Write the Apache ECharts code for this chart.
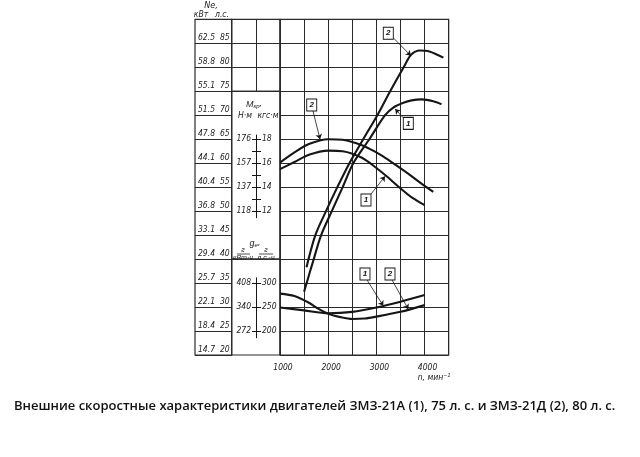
<!DOCTYPE html>
<html>
<head>
<meta charset="utf-8">
<title>Внешние скоростные характеристики ЗМЗ-21А и ЗМЗ-21Д</title>
<script src="https://cdn.jsdelivr.net/npm/echarts@6.0.0/dist/echarts.min.js"></script>
<style>
  html, body { margin: 0; padding: 0; background: #fff; }
  #chart { width: 640px; height: 457px; }
</style>
</head>
<body>
<div id="chart"></div>
<script>
// --- данные ---
// мощность Ne, л.с.
var ne1Rpm = [1500, 1550, 1700, 1850, 2070, 2300, 2520, 2860, 3180, 3350, 3560, 3730, 3940, 4180, 4350];
var ne1Hp  = [33.2, 34.9, 40.0, 44.9, 49.9, 55.0, 60.0, 65.1, 70.0, 71.6, 72.6, 73.1, 73.3, 72.9, 72.3];
var ne2Rpm = [1550, 1730, 1950, 2190, 2440, 2750, 3020, 3280, 3560, 3720, 3900, 4100, 4390];
var ne2Hp  = [38.3, 44.9, 49.9, 55.0, 60.0, 65.4, 70.0, 74.9, 79.9, 82.6, 83.5, 83.3, 82.0];
// крутящий момент Mкр, кгс·м
var m1Rpm = [1000, 1300, 1600, 2000, 2300, 2700, 3000, 3200, 3500, 3750, 4000];
var m1Kgf = [15.5, 16.1, 16.7, 17.05, 17.0, 16.45, 15.6, 14.95, 13.9, 13.1, 12.5];
var m2Rpm = [1000, 1300, 1600, 2000, 2300, 2700, 3000, 3200, 3400, 3700, 3900, 4180];
var m2Kgf = [16.05, 16.9, 17.6, 18.0, 17.95, 17.5, 16.9, 16.4, 15.85, 15.0, 14.4, 13.6];
// удельный расход топлива ge, г/л.с.·ч
var g1Rpm = [1000, 1500, 2000, 2500, 3000, 3500, 4000];
var g1Val = [249, 243, 237, 240, 249, 261, 275];
var g2Rpm = [1000, 1300, 1600, 1800, 2000, 2250, 2500, 2750, 3000, 3500, 4000];
var g2Val = [278, 273, 259, 246, 236, 229, 225, 226, 230, 240, 254];

// подписи шкал
var xTickValues = [1000, 2000, 3000, 4000];
var neHpTicks = [20, 25, 30, 35, 40, 45, 50, 55, 60, 65, 70, 75, 80, 85];
var neKwLabels = ['14.7', '18.4', '22.1', '25.7', '29.4', '33.1', '36.8', '40.4', '44.1', '47.8', '51.5', '55.1', '58.8', '62.5'];
var mKgfTicks = [12, 14, 16, 18];
var mNmLabels = ['118', '137', '157', '176'];
var mTickMarks = [12, 13, 14, 15, 16, 17, 18];
var gHpTicks = [200, 250, 300];
var gKwLabels = ['272', '340', '408'];

// --- разметка ---
var L = { left: 280, right: 448.7, top: 19.3, bottom: 355, col1: 195, col2: 231.7, axisX: 256 };
var HP = [20, 90], MK = [0, 28], GE = [150, 850];
var mSpan = [11.45, 18.35], gSpan = [186, 311];
var H = L.bottom - L.top;
function py(v, r) { return L.bottom - (v - r[0]) / (r[1] - r[0]) * H; }

var ink = '#161616';
var gridC = '#2a2a2a';
var tickFont = { fontSize: 8.5, fontStyle: 'italic', color: '#222', fontFamily: '"Liberation Sans Narrow", "DejaVu Sans Condensed", "Liberation Sans", sans-serif' };

// положение номеров кривых и стрелок (в единицах осей)
var notes = {
  ne1: { box: [3662, 68.3], from: [3552, 69.5], to: [3390, 71.3], text: '1' },
  ne2: { box: [3247, 87.1], from: [3355, 86.1], to: [3715, 82.4], text: '2' },
  m1:  { box: [2784, 12.93], from: [2888, 13.43], to: [3180, 14.9], text: '1' },
  m2:  { box: [1658, 20.85], from: [1685, 20.35], to: [1830, 18.0], text: '2' },
  g1:  { box: [2763, 319], from: [2805, 306.5], to: [3143, 252.5], text: '1' },
  g2:  { box: [3282, 319], from: [3324, 306.5], to: [3662, 245.5], text: '2' }
};

function zip(a, b) { return a.map(function (v, i) { return [v, b[i]]; }); }

function curve(name, rpm, vals, yIdx) {
  var n = notes[name];
  return {
    name: name,
    type: 'line',
    xAxisIndex: 0,
    yAxisIndex: yIdx,
    data: zip(rpm, vals),
    smooth: 0.3,
    symbol: 'none',
    lineStyle: { color: ink, width: 2.1 },
    markPoint: {
      symbol: 'rect',
      symbolSize: [10, 12],
      itemStyle: { color: '#fff', borderColor: ink, borderWidth: 1 },
      label: { show: true, position: 'inside', formatter: '{b}', color: ink, fontSize: 8, fontWeight: 'bold', fontStyle: 'italic' },
      data: [{ name: n.text, coord: n.box }]
    },
    markLine: {
      silent: true,
      symbol: ['none', 'arrow'],
      symbolSize: 5,
      lineStyle: { color: ink, width: 0.8, type: 'solid' },
      label: { show: false },
      data: [[{ coord: n.from }, { coord: n.to }]]
    }
  };
}

function hidden(gridIndex) { return { gridIndex: gridIndex, type: 'value', show: false }; }
function txt(text, x, y, extra) {
  var style = Object.assign({ text: text, x: 0, y: 0, fill: '#222', align: 'center', verticalAlign: 'middle',
    font: 'italic 8.5px "Liberation Sans Narrow", "DejaVu Sans Condensed", sans-serif' }, extra || {});
  return { type: 'text', x: x, y: y, style: style };
}
function bar(x1, x2, y) {
  return { type: 'line', shape: { x1: x1, y1: y, x2: x2, y2: y }, style: { stroke: '#222', lineWidth: 0.8 } };
}

var chart = echarts.init(document.getElementById('chart'));
var frame = { show: true, borderColor: gridC, borderWidth: 1.2, backgroundColor: 'transparent' };
var midW = L.left - L.col2;

var option = {
  animation: false,
  backgroundColor: '#fff',
  title: {
    text: 'Внешние скоростные характеристики двигателей ЗМЗ-21А (1), 75 л. с. и ЗМЗ-21Д (2), 80 л. с.',
    left: 9,
    top: 395,
    textStyle: { fontSize: 13, fontWeight: 600, color: '#111', fontFamily: '"Open Sans", "Noto Sans", sans-serif' }
  },
  grid: [
    Object.assign({ left: L.left, top: L.top, width: L.right - L.left, height: H }, frame),
    Object.assign({ left: L.col1, top: L.top, width: L.col2 - L.col1, height: H }, frame),
    Object.assign({ left: L.col2, top: L.top, width: midW, height: py(75, HP) - L.top }, frame),
    Object.assign({ left: L.col2, top: py(75, HP), width: midW, height: py(40, HP) - py(75, HP) }, frame),
    Object.assign({ left: L.col2, top: py(40, HP), width: midW, height: L.bottom - py(40, HP) }, frame),
    { left: L.axisX, top: py(mSpan[1], MK), width: 1, height: py(mSpan[0], MK) - py(mSpan[1], MK) },
    { left: L.axisX, top: py(gSpan[1], GE), width: 1, height: py(gSpan[0], GE) - py(gSpan[1], GE) }
  ],
  xAxis: [
    {
      gridIndex: 0, type: 'value', min: 1000, max: 4500, interval: 500,
      axisLine: { show: false }, axisTick: { show: false },
      splitLine: { show: true, lineStyle: { color: gridC, width: 1 } },
      axisLabel: Object.assign({
        customValues: xTickValues, margin: 8, padding: [0, 0, 0, 6],
        formatter: function (v) { return String(v); }
      }, tickFont)
    },
    hidden(1),
    {
      gridIndex: 2, type: 'value', min: 0, max: 2, interval: 1,
      axisLine: { show: false }, axisTick: { show: false }, axisLabel: { show: false },
      splitLine: { show: true, lineStyle: { color: gridC, width: 1 } }
    },
    hidden(3), hidden(4), hidden(5), hidden(6)
  ],
  yAxis: [
    {
      gridIndex: 0, type: 'value', min: HP[0], max: HP[1], interval: 5,
      axisLine: { show: false }, axisTick: { show: false }, axisLabel: { show: false },
      splitLine: { show: true, lineStyle: { color: gridC, width: 1 } }
    },
    { gridIndex: 0, type: 'value', min: MK[0], max: MK[1], show: false },
    { gridIndex: 0, type: 'value', min: GE[0], max: GE[1], show: false },
    {
      gridIndex: 1, type: 'value', min: HP[0], max: HP[1], interval: 5, position: 'left',
      axisLine: { show: false }, axisTick: { show: false },
      splitLine: { show: true, lineStyle: { color: gridC, width: 1 } },
      axisLabel: Object.assign({
        inside: true, margin: 3, verticalAlign: 'bottom', padding: [0, 0, 1, 0],
        formatter: function (v) { var i = neHpTicks.indexOf(v); return i < 0 ? '' : neKwLabels[i]; }
      }, tickFont)
    },
    {
      gridIndex: 1, type: 'value', min: HP[0], max: HP[1], interval: 5, position: 'right',
      axisLine: { show: false }, axisTick: { show: false }, splitLine: { show: false },
      axisLabel: Object.assign({
        inside: true, margin: 2, verticalAlign: 'bottom', padding: [0, 0, 1, 0],
        formatter: function (v) { return neHpTicks.indexOf(v) < 0 ? '' : String(v); }
      }, tickFont)
    },
    {
      gridIndex: 2, type: 'value', min: 75, max: 90, interval: 5,
      axisLine: { show: false }, axisTick: { show: false }, axisLabel: { show: false },
      splitLine: { show: true, lineStyle: { color: gridC, width: 1 } }
    },
    hidden(3), hidden(4),
    {
      gridIndex: 5, type: 'value', min: mSpan[0], max: mSpan[1], position: 'left',
      axisLine: { show: true, lineStyle: { color: ink, width: 1 } },
      axisTick: { show: true, customValues: mTickMarks, length: 4, lineStyle: { color: ink, width: 1 } },
      splitLine: { show: false },
      axisLabel: Object.assign({
        customValues: mKgfTicks, margin: 5,
        formatter: function (v) { return mNmLabels[mKgfTicks.indexOf(v)]; }
      }, tickFont)
    },
    {
      gridIndex: 5, type: 'value', min: mSpan[0], max: mSpan[1], position: 'right',
      axisLine: { show: false },
      axisTick: { show: true, customValues: mTickMarks, length: 4, lineStyle: { color: ink, width: 1 } },
      splitLine: { show: false },
      axisLabel: Object.assign({ customValues: mKgfTicks, margin: 5 }, tickFont)
    },
    {
      gridIndex: 6, type: 'value', min: gSpan[0], max: gSpan[1], position: 'left',
      axisLine: { show: true, lineStyle: { color: ink, width: 1 } },
      axisTick: { show: true, customValues: gHpTicks, length: 4, lineStyle: { color: ink, width: 1 } },
      splitLine: { show: false },
      axisLabel: Object.assign({
        customValues: gHpTicks, margin: 5,
        formatter: function (v) { return gKwLabels[gHpTicks.indexOf(v)]; }
      }, tickFont)
    },
    {
      gridIndex: 6, type: 'value', min: gSpan[0], max: gSpan[1], position: 'right',
      axisLine: { show: false },
      axisTick: { show: true, customValues: gHpTicks, length: 4, lineStyle: { color: ink, width: 1 } },
      splitLine: { show: false },
      axisLabel: Object.assign({ customValues: gHpTicks, margin: 5 }, tickFont)
    }
  ],
  series: [
    curve('ne1', ne1Rpm, ne1Hp, 0),
    curve('ne2', ne2Rpm, ne2Hp, 0),
    curve('m1', m1Rpm, m1Kgf, 1),
    curve('m2', m2Rpm, m2Kgf, 1),
    curve('g1', g1Rpm, g1Val, 2),
    curve('g2', g2Rpm, g2Val, 2)
  ],
  graphic: [
    txt('Ne,', 211, 6, { font: 'italic 9px "Liberation Sans Narrow", "DejaVu Sans Condensed", sans-serif' }),
    txt('кВт', 201, 15), txt('л.с.', 222, 15),
    txt('{a|M}{b|кр},', 254, 104, { rich: { a: { fontSize: 9, fontStyle: 'italic', fill: '#222' }, b: { fontSize: 6, fontStyle: 'italic', fill: '#222', padding: [4, 0, 0, 0] } } }),
    txt('Н·м', 245, 116), txt('кгс·м', 268, 116),
    txt('{a|g}{b|e},', 255, 243, { rich: { a: { fontSize: 9, fontStyle: 'italic', fill: '#222' }, b: { fontSize: 6, fontStyle: 'italic', fill: '#222', padding: [4, 0, 0, 0] } } }),
    txt('г', 243, 250, { font: 'italic 7px "Liberation Sans Narrow", sans-serif' }),
    bar(237, 250, 254),
    txt('кВт·ч', 243, 258.5, { font: 'italic 7px "Liberation Sans Narrow", sans-serif' }),
    txt('г', 266, 250, { font: 'italic 7px "Liberation Sans Narrow", sans-serif' }),
    bar(259, 273, 254),
    txt('л.с.·ч', 266, 258.5, { font: 'italic 7px "Liberation Sans Narrow", sans-serif' }),
    txt('n, мин⁻¹', 434, 378)
  ]
};

chart.setOption(option);
</script>
</body>
</html>
